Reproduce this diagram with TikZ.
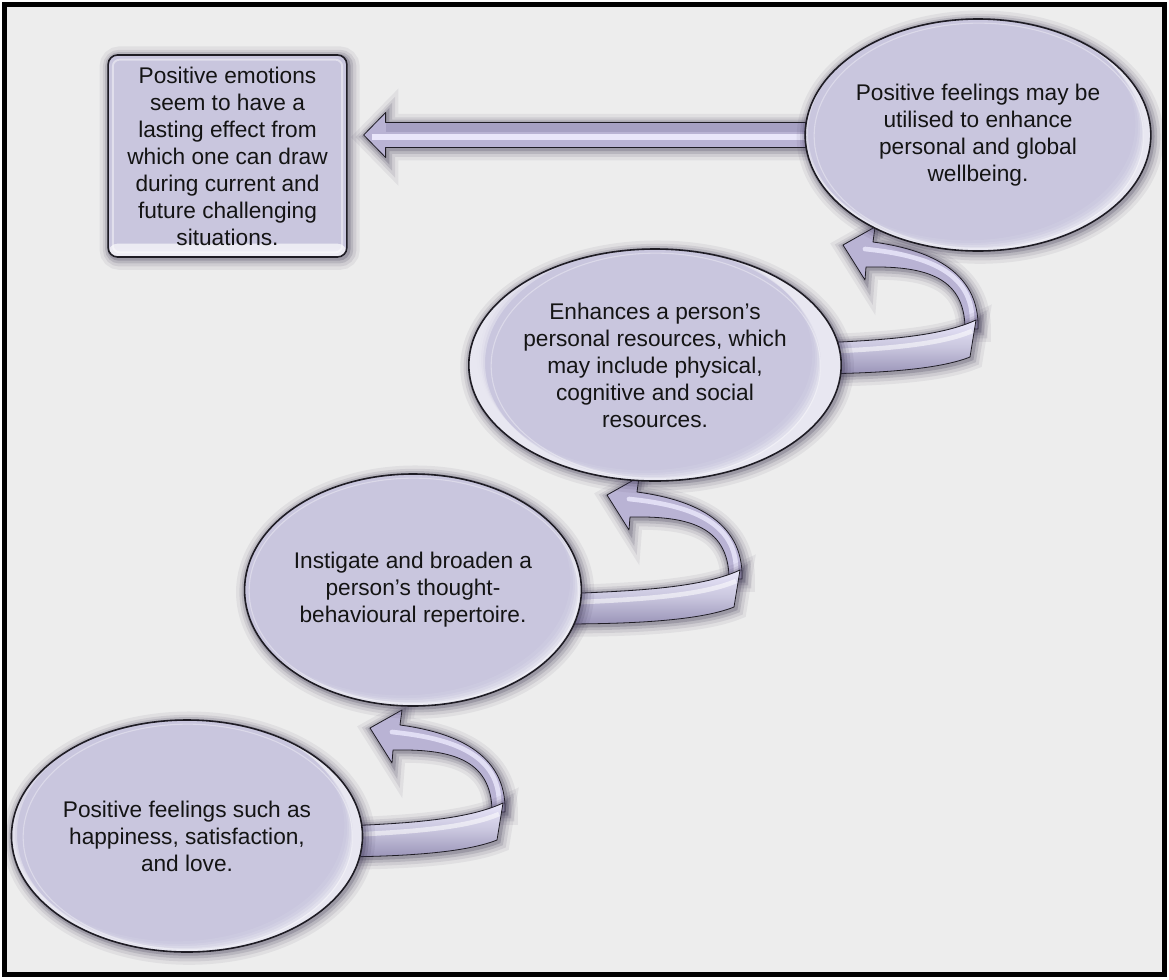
\documentclass[tikz,border=0pt]{standalone}
\usepackage{fontspec}
\setmainfont{Liberation Sans}
\usetikzlibrary{calc,shapes.geometric}

\definecolor{pagebg}{HTML}{EDEDED}
\definecolor{lav}{HTML}{C9C6DE}
\definecolor{lavlight}{HTML}{E9E6FA}
\definecolor{lavmid}{HTML}{B9B3D4}
\definecolor{lavdark}{HTML}{9A94B8}
\definecolor{edge}{HTML}{1E1C24}
\definecolor{ink}{HTML}{141414}
\definecolor{shadowc}{HTML}{3A3350}

\pgfdeclarelayer{page}
\pgfdeclarelayer{back}
\pgfsetlayers{page,back,main}

\newcommand\txtfont{\fontsize{17pt}{20.25pt}\selectfont}

% glossy rim at the lower right of a bubble
\newcommand\bubblegloss{%
  \foreach \s/\o in {1.5/0.30,3/0.22,4.5/0.16,6/0.11,8/0.07}{%
    \fill[white, opacity=\o, even odd rule]
      ([xshift=-20pt,yshift=-20pt]path picture bounding box.south west)
        rectangle ([xshift=20pt,yshift=20pt]path picture bounding box.north east)
      ([xshift=-\s pt, yshift=\s pt]path picture bounding box.center)
        ellipse [x radius=126pt, y radius=87pt];
  }%
  \draw[white, opacity=0.35, line width=0.8pt]
    ([xshift=0.6pt,yshift=-0.6pt]path picture bounding box.center)
    ellipse [x radius=123.5pt, y radius=84.5pt];
}

% bevel of the note box
\newcommand\boxgloss{%
  \shade[top color=lav, bottom color=white, opacity=0.7]
    ([yshift=10pt]path picture bounding box.south west)
    rectangle (path picture bounding box.south east);
  \draw[white, opacity=0.45, line width=1.4pt, rounded corners=5pt]
    ([xshift=3.5pt,yshift=-3.5pt]path picture bounding box.north west)
    rectangle ([xshift=-3.5pt,yshift=3.5pt]path picture bounding box.south east);
}

\tikzset{
  % soft dark halo built from stacked translucent strokes
  glow/.style={
    preaction={draw=shadowc, opacity=0.07, line width=16pt,
      transform canvas={xshift=1.6pt,yshift=-1.6pt}},
    preaction={draw=shadowc, opacity=0.10, line width=11pt,
      transform canvas={xshift=1.6pt,yshift=-1.6pt}},
    preaction={draw=shadowc, opacity=0.15, line width=7pt,
      transform canvas={xshift=1.3pt,yshift=-1.3pt}},
    preaction={draw=shadowc, opacity=0.22, line width=3.5pt,
      transform canvas={xshift=1pt,yshift=-1pt}}},
  bubble/.style={ellipse, glow, draw=edge, line width=1.2pt, fill=lav,
      minimum width=252pt, minimum height=174pt, inner sep=0pt,
      align=center, text=ink, font=\txtfont, path picture={\bubblegloss}},
  notebox/.style={rectangle, rounded corners=7pt, glow, draw=edge,
      line width=1.2pt, fill=lav, minimum width=179pt, minimum height=151.5pt,
      inner sep=0pt, align=center, text=ink, font=\txtfont,
      path picture={\boxgloss}},
  ribbonline/.style={draw=edge, line width=0.6pt, line join=round},
  pics/twistarrow/.style={code={
    % rear band rising to the arrow head
    \draw[ribbonline, glow, fill=lavmid]
      (48,-117) .. controls (100,-110) and (155,-90) .. (153,-30)
      -- (140,-30) .. controls (140,-85) and (95,-93) .. (41,-92)
      -- (40,-79) -- (18,-114) -- (50,-132) -- cycle;
    \draw[lavlight, opacity=0.85, line width=3.5pt, line cap=round]
      (40,-110) .. controls (99,-104) and (149,-88) .. (147,-36);
    % front band leaving the lower bubble
    \draw[ribbonline, glow, top color=lavlight, bottom color=lavdark, middle color=lav]
      (-30,-15) .. controls (40,-18) and (110,-20) .. (151,-39)
      -- (145,-2) .. controls (110,12) and (40,15) .. (-30,15) -- cycle;
    \draw[white, opacity=0.55, line width=3.5pt]
      (-30,-6) .. controls (40,-9) and (110,-12) .. (147,-28);
  }},
}

\begin{document}
\begin{tikzpicture}[x=0.75pt, y=-0.75pt]
  \useasboundingbox (0,0) rectangle (1169,979);
  \begin{pgfonlayer}{page}
    \fill[white] (0,0) rectangle (1169,979);
    \fill[pagebg] (4,4) rectangle (1165,975);
  \end{pgfonlayer}

  % steps
  \node[bubble] (e4) at (187,836)
    {Positive feelings such as\\happiness, satisfaction,\\and love.};
  \node[bubble] (e3) at (413,590)
    {Instigate and broaden a\\person’s thought-\\behavioural repertoire.};
  \node[bubble] (e2) at (655,365)
    {Enhances a person’s\\personal resources, which\\may include physical,\\cognitive and social\\resources.};
  \node[bubble] (e1) at (978,135)
    {Positive feelings may be\\utilised to enhance\\personal and global\\wellbeing.};
  \node[notebox] (box) at (227.5,156)
    {Positive emotions\\seem to have a\\lasting effect from\\which one can draw\\during current and\\future challenging\\situations.};

  \begin{pgfonlayer}{back}
    % twisted arrows climbing from one step to the next
    \pic at ($(e4.center)+(165,6)$) {twistarrow};
    \pic at ($(e3.center)+(176,19)$) {twistarrow};
    \pic at ($(e2.center)+(170,-6)$) {twistarrow};

    % straight arrow from the top step to the note
    \coordinate (hs) at ($(e1.west)+(12,0)$);
    \coordinate (ht) at ($(box.east |- e1.west)+(16,0)$);
    \draw[ribbonline, glow, fill=lavmid]
      (ht) -- ($(ht)+(22,-22.5)$) -- ($(ht)+(22,-12.5)$)
      -- ($(hs)+(0,-12.5)$) -- ($(hs)+(0,12.5)$)
      -- ($(ht)+(22,12.5)$) -- ($(ht)+(22,22.5)$) -- cycle;
    \fill[lavdark, opacity=0.6] ($(ht)+(22,-11.8)$) rectangle ($(hs)+(0,-3)$);
    \draw[lavlight, line width=4.5pt] ($(ht)+(8,2)$) -- ($(hs)+(0,2)$);
  \end{pgfonlayer}

  % frame
  \draw[line width=3.5pt] (4.5,4.5) rectangle (1164.5,974.5);
\end{tikzpicture}
\end{document}
